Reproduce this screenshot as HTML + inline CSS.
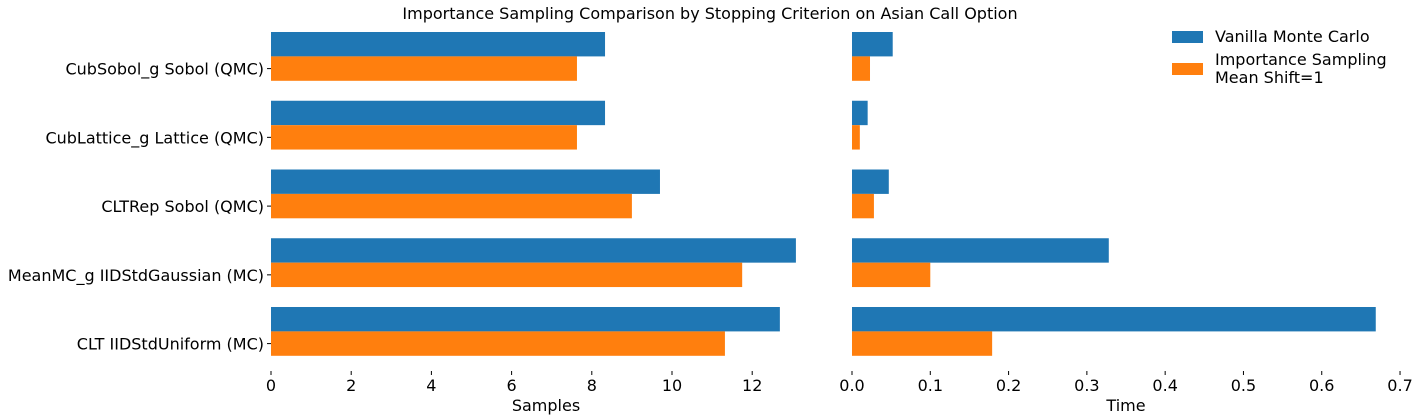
<!DOCTYPE html>
<html><head><meta charset="utf-8"><style>
body{margin:0;background:#fff;}
svg{display:block;font-family:"DejaVu Sans","Liberation Sans",sans-serif;}
</style></head><body>
<svg id="chart" width="1419" height="420">
<text x="710" y="19" text-anchor="middle" font-size="16" fill="#000">Importance Sampling Comparison by Stopping Criterion on Asian Call Option</text>
<g>
<rect x="1172" y="31" width="31" height="12" fill="#1f77b4"/>
<text x="1215" y="42" font-size="16">Vanilla Monte Carlo</text>
<rect x="1172" y="63" width="31" height="12" fill="#ff7f0e"/>
<text x="1215" y="65" font-size="16">Importance Sampling</text>
<text x="1215" y="83" font-size="16">Mean Shift=1</text>
</g>
<text x="546" y="411" text-anchor="middle" font-size="16">Samples</text>
<text x="1126" y="411" text-anchor="middle" font-size="16">Time</text>
</svg>
<script>
const categories=["CubSobol_g Sobol (QMC)","CubLattice_g Lattice (QMC)","CLTRep Sobol (QMC)","MeanMC_g IIDStdGaussian (MC)","CLT IIDStdUniform (MC)"];
const samplesVanilla=[8.33,8.33,9.70,13.09,12.69];
const samplesIS=[7.63,7.63,9.00,11.75,11.32];
const timeVanilla=[0.052,0.020,0.047,0.328,0.669];
const timeIS=[0.023,0.010,0.028,0.100,0.179];
const samplesTicks=[0,2,4,6,8,10,12];
const timeTicks=[0,0.1,0.2,0.3,0.4,0.5,0.6,0.7];
const timeTickLabels=["0.0","0.1","0.2","0.3","0.4","0.5","0.6","0.7"];

const svg=document.getElementById('chart');
const NS='http://www.w3.org/2000/svg';
function mk(tag,attrs){const e=document.createElementNS(NS,tag);for(const k in attrs)e.setAttribute(k,attrs[k]);svg.appendChild(e);return e;}
const xS=v=>271+v*40.1;
const xT=v=>852+v*782.9;
const rowTop=i=>32+i*68.75;
const bh=24.4;
function panel(xf,van,imp,key){
  categories.forEach((c,i)=>{
    const y=rowTop(i);
    let r=mk('rect',{x:xf(0),y:y,width:xf(van[i])-xf(0),height:bh,fill:'#1f77b4'});
    
    
    r=mk('rect',{x:xf(0),y:y+bh,width:xf(imp[i])-xf(0),height:bh,fill:'#ff7f0e'});
    
    
  });
}
panel(xS,samplesVanilla,samplesIS,'samples');
panel(xT,timeVanilla,timeIS,'time');
categories.forEach((c,i)=>{
  const y=rowTop(i)+bh*1.5;
  const l=mk('line',{x1:267,x2:271,y1:y,y2:y,stroke:'#000','stroke-width':1});
  
  
  const t=mk('text',{x:264,y:y+6,'text-anchor':'end','font-size':16});
  
  
  t.textContent=c;
});
samplesTicks.forEach(v=>{
  const x=xS(v);
  const l=mk('line',{x1:x,x2:x,y1:371,y2:375,stroke:'#000'});
  
  
  const t=mk('text',{x:x,y:391,'text-anchor':'middle','font-size':16});
  
  
  t.textContent=v;
});
timeTicks.forEach((v,i)=>{
  const x=xT(v);
  const l=mk('line',{x1:x,x2:x,y1:371,y2:375,stroke:'#000'});
  
  
  const t=mk('text',{x:x,y:391,'text-anchor':'middle','font-size':16});
  
  
  t.textContent=timeTickLabels[i];
});
</script>
</body></html>
